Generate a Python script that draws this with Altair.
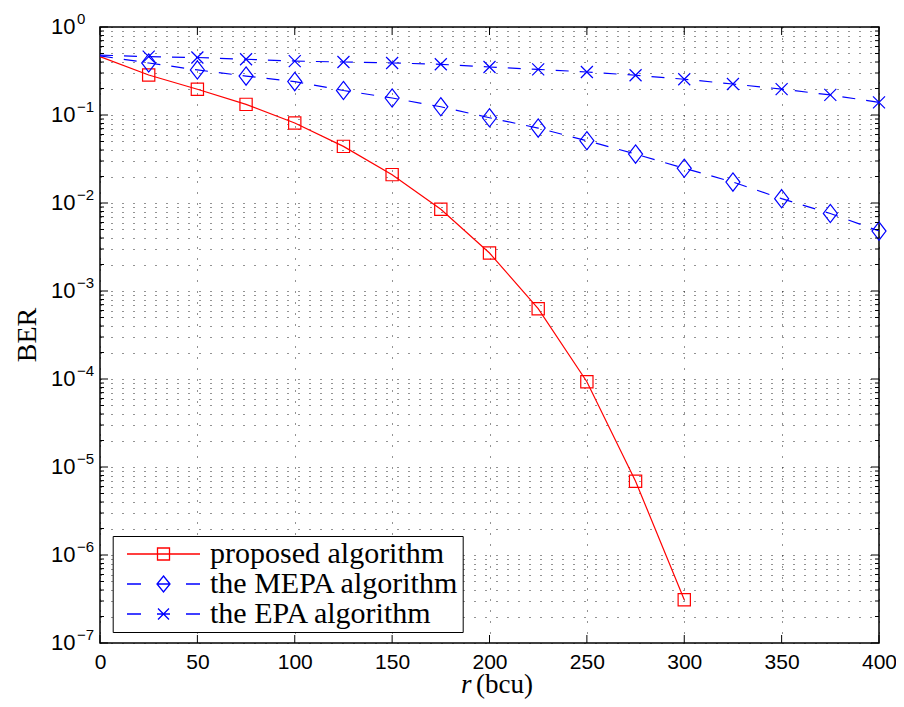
import altair as alt
import pandas as pd

# ---------------- data ----------------
r_proposed = [0, 25, 50, 75, 100, 125, 150, 175, 200, 225, 250, 275, 300]
ber_proposed = [0.46, 0.285, 0.196, 0.132, 0.081, 0.044, 0.021, 0.0085,
                0.0027, 6.3e-4, 9.3e-5, 6.9e-6, 3.1e-7]

r_mepa = [0, 25, 50, 75, 100, 125, 150, 175, 200, 225, 250, 275, 300,
          325, 350, 375, 400]
ber_mepa = [0.47, 0.39, 0.325, 0.277, 0.24, 0.19, 0.156, 0.124, 0.093,
            0.071, 0.051, 0.036, 0.0248, 0.0173, 0.0112, 0.0076, 0.0048]

r_epa = [0, 25, 50, 75, 100, 125, 150, 175, 200, 225, 250, 275, 300,
         325, 350, 375, 400]
ber_epa = [0.48, 0.46, 0.45, 0.43, 0.41, 0.40, 0.39, 0.377, 0.351, 0.33,
           0.308, 0.283, 0.255, 0.225, 0.197, 0.169, 0.139]

series_names = ["proposed algorithm", "the MEPA algorithm", "the EPA algorithm"]
series_colors = ["#FF0000", "#0000FF", "#0000FF"]

x_ticks = [0, 50, 100, 150, 200, 250, 300, 350, 400]
decade_values = [1, 1e-1, 1e-2, 1e-3, 1e-4, 1e-5, 1e-6, 1e-7]
decade_exps = ["0", "\u22121", "\u22122", "\u22123", "\u22124", "\u22125", "\u22126", "\u22127"]
minor_values = [k * 10.0 ** e for e in range(-7, 0) for k in range(2, 10)]

# ---------------- layout ----------------
W, H = 779, 616
RED, BLUE = "#FF0000", "#0000FF"

df_prop = pd.DataFrame({"r": r_proposed, "ber": ber_proposed})
df_mepa = pd.DataFrame({"r": r_mepa, "ber": ber_mepa})
df_epa = pd.DataFrame({"r": r_epa, "ber": ber_epa})

xs = alt.Scale(domain=[0, 400], nice=False, zero=False)
ys = alt.Scale(type="log", domain=[1e-7, 1], nice=False)

x_axis = alt.Axis(values=x_ticks, grid=True, gridDash=[1, 10], gridColor="black",
                  gridOpacity=0.85, gridWidth=1, ticks=False, domain=False,
                  labelFont="Liberation Sans", labelFontSize=21, labelColor="black",
                  labelPadding=8, labelFlush=False, labelOverlap=False, title=None)
y_axis = alt.Axis(values=decade_values + minor_values, grid=True, gridDash=[1, 10],
                  gridColor="black", gridOpacity=0.85, gridWidth=1, ticks=False,
                  domain=False, labels=False, title=None)

X = alt.X("r:Q", scale=xs, axis=x_axis)
Y = alt.Y("ber:Q", scale=ys, axis=y_axis)

line_prop = alt.Chart(df_prop).mark_line(color=RED, strokeWidth=1.2).encode(x=X, y=Y)
line_mepa = alt.Chart(df_mepa).mark_line(color=BLUE, strokeWidth=1.2,
                                         strokeDash=[13, 11]).encode(x=X, y=Y)
line_epa = alt.Chart(df_epa).mark_line(color=BLUE, strokeWidth=1.2,
                                       strokeDash=[13, 11]).encode(x=X, y=Y)

DIAMOND = "M0,-1.3L1,0L0,1.3L-1,0Z"
XMARK = "M-1,-1L1,1M-1,1L1,-1"

pts_prop = alt.Chart(df_prop).transform_filter("datum.r > 0").mark_point(
    shape="square", size=150, filled=False, color=RED, strokeWidth=1.2, opacity=1
).encode(x=X, y=Y)
pts_mepa = alt.Chart(df_mepa).transform_filter("datum.r > 0").mark_point(
    shape=DIAMOND, size=196, filled=False, color=BLUE, strokeWidth=1.2, opacity=1
).encode(x=X, y=Y)
pts_epa = alt.Chart(df_epa).transform_filter("datum.r > 0").mark_point(
    shape=XMARK, size=144, filled=False, color=BLUE, strokeWidth=1.2, opacity=1
).encode(x=X, y=Y)

# inward ticks (MATLAB style)
df_xt = pd.DataFrame({"r": x_ticks})
df_major = pd.DataFrame({"ber": decade_values})
df_minor = pd.DataFrame({"ber": minor_values})
tick_style = dict(color="black", strokeWidth=1)
ticks_bottom = alt.Chart(df_xt).mark_rule(**tick_style).encode(
    x=X, y=alt.value(H), y2=alt.value(H - 8))
ticks_top = alt.Chart(df_xt).mark_rule(**tick_style).encode(
    x=X, y=alt.value(0), y2=alt.value(8))
ticks_left_major = alt.Chart(df_major).mark_rule(**tick_style).encode(
    y=Y, x=alt.value(0), x2=alt.value(8))
ticks_right_major = alt.Chart(df_major).mark_rule(**tick_style).encode(
    y=Y, x=alt.value(W), x2=alt.value(W - 8))
ticks_left_minor = alt.Chart(df_minor).mark_rule(**tick_style).encode(
    y=Y, x=alt.value(0), x2=alt.value(4))
ticks_right_minor = alt.Chart(df_minor).mark_rule(**tick_style).encode(
    y=Y, x=alt.value(W), x2=alt.value(W - 4))

# y tick labels 10^k
df_dec = pd.DataFrame({"ber": decade_values, "exp": decade_exps})
ylab_base = alt.Chart(df_dec).mark_text(
    text="10", align="left", baseline="middle", font="Liberation Sans",
    fontSize=22, color="black").encode(y=Y, x=alt.value(-49))
ylab_exp = alt.Chart(df_dec).mark_text(
    align="left", baseline="middle", font="Liberation Sans", fontSize=15,
    color="black", dy=-8).encode(y=Y, x=alt.value(-23), text="exp:N")

# axis titles
df_t = pd.DataFrame({"t": ["BER"]})
ytitle = alt.Chart(df_t).mark_text(
    angle=270, align="center", baseline="middle", font="Liberation Serif",
    fontSize=28, color="black").encode(x=alt.value(-72), y=alt.value(308), text="t:N")
df_r = pd.DataFrame({"t": ["r"]})
xtitle_r = alt.Chart(df_r).mark_text(
    align="left", baseline="alphabetic", font="Liberation Serif", fontStyle="italic",
    fontSize=27, color="black").encode(x=alt.value(361), y=alt.value(666), text="t:N")
df_b = pd.DataFrame({"t": ["(bcu)"]})
xtitle_b = alt.Chart(df_b).mark_text(
    align="left", baseline="alphabetic", font="Liberation Serif",
    fontSize=27, color="black").encode(x=alt.value(376), y=alt.value(666), text="t:N")

# legend (custom symbols: line + marker, 1 unit = 1px with size 4)
P_PROP = "M-3.7,0H69.3M26.8,-6H38.8V6H26.8Z"
P_MEPA = "M-3.7,0H10.3M26.3,0H39.3M55.3,0H69.3M32.8,-8L39.3,0L32.8,8L26.3,0Z"
P_EPA = "M-3.7,0H10.3M26.3,0H39.3M55.3,0H69.3M27.3,-5.5L38.3,5.5M27.3,5.5L38.3,-5.5"
legend_paths = [P_PROP, P_MEPA, P_EPA]

leg = alt.Legend(orient="none", legendX=12.7, legendY=509, title=None, padding=3,
                 rowPadding=0, strokeColor="black", fillColor="white",
                 cornerRadius=0, labelFont="Liberation Serif", labelFontSize=30,
                 labelColor="black", labelOffset=64.3, labelLimit=0,
                 symbolSize=4, symbolStrokeWidth=1.3, labelBaseline="middle")
df_leg = pd.DataFrame({"series": series_names, "r": [-100] * 3, "ber": [1e-9] * 3})
legend_layer = alt.Chart(df_leg).mark_point(
    clip=True, filled=False, size=4, strokeWidth=1.3, opacity=1
).encode(
    x=X, y=Y,
    shape=alt.Shape("series:N", scale=alt.Scale(domain=series_names, range=legend_paths),
                    legend=leg, sort=series_names),
    color=alt.Color("series:N", scale=alt.Scale(domain=series_names, range=series_colors),
                    legend=leg, sort=series_names),
)

chart = alt.layer(
    line_prop, line_mepa, line_epa, pts_prop, pts_mepa, pts_epa,
    ticks_bottom, ticks_top, ticks_left_major, ticks_right_major,
    ticks_left_minor, ticks_right_minor,
    ylab_base, ylab_exp, ytitle, xtitle_r, xtitle_b, legend_layer
).properties(
    width=W, height=H,
    autosize=alt.AutoSizeParams(type="none"),
    padding={"left": 92, "top": 19, "right": 17, "bottom": 56},
    background="white",
).configure_view(stroke="black", strokeWidth=1.5)

chart.save("out.html", embed_options={"renderer": "svg", "actions": False})
